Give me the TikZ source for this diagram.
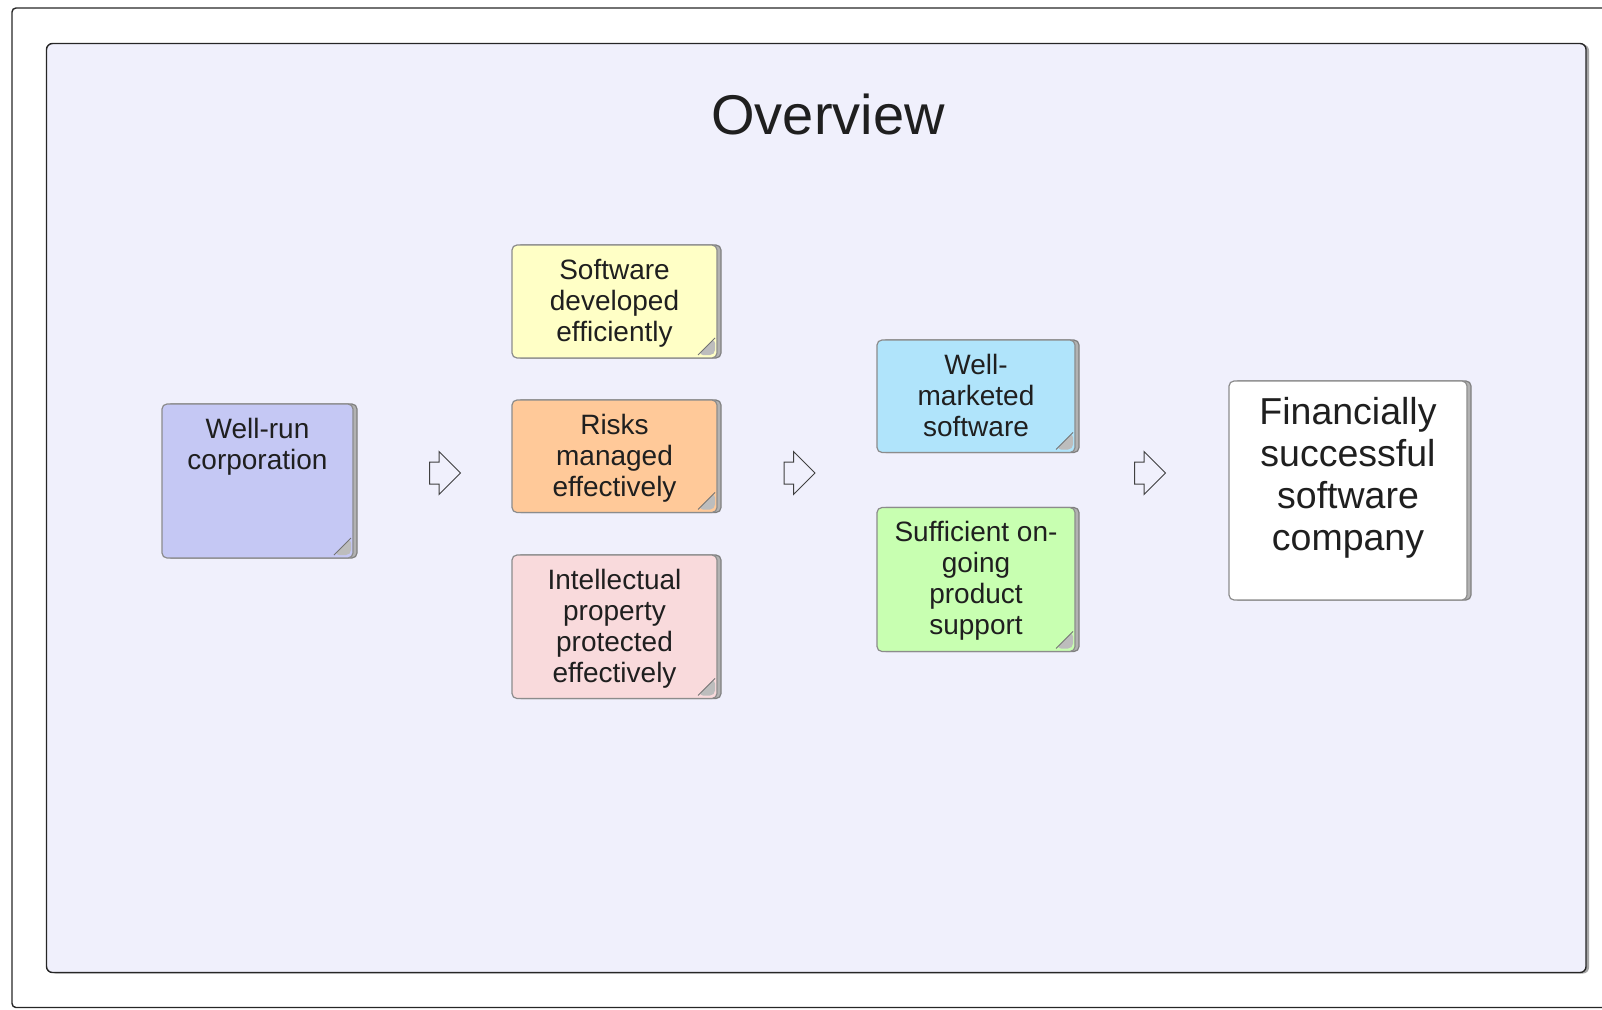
\documentclass[tikz,border=0pt]{standalone}
\usepackage{fontspec}
\setmainfont{Liberation Sans}
\usetikzlibrary{shapes.arrows,shadows}

\definecolor{panelbg}{HTML}{F0F0FC}
\definecolor{corpc}{HTML}{C5C8F4}
\definecolor{softc}{HTML}{FFFFC6}
\definecolor{riskc}{HTML}{FFC999}
\definecolor{ipc}{HTML}{F9DADC}
\definecolor{mktc}{HTML}{B0E4FB}
\definecolor{suppc}{HTML}{C8FFB1}

\tikzset{
  note/.style={draw=black!45,line width=1.2pt,rounded corners=5pt,inner sep=0pt,
    general shadow={shadow xshift=4pt,shadow yshift=0pt,fill=black!30,draw=black!50},
    path picture={
      \fill[black!26] ([xshift=-2pt,yshift=3pt]path picture bounding box.south east)
        -- ++(0,17pt) -- ++(-17pt,-17pt) -- cycle;
      \draw[black!55,line width=0.9pt] ([xshift=-2pt,yshift=20pt]path picture bounding box.south east)
        -- ++(-17pt,-17pt);
    }},
  notetext/.style={anchor=north,align=center,inner sep=2pt,text=black!88,
    font=\fontsize{28}{31}\selectfont},
  flow/.style={single arrow,draw=black!75,line width=1pt,inner xsep=0pt,inner ysep=10.5pt,
    single arrow head extend=10.5pt,single arrow tip angle=90,minimum height=31pt}
}

\begin{document}
\begin{tikzpicture}[x=1pt,y=-1pt]
        \useasboundingbox (0,0) rectangle (1602,1009);
        %% Frame and panel
        \draw[rounded corners=4pt,line width=1.4pt,black!85] (12,8) rectangle (1640,1007.5);
        \draw[rounded corners=6pt,line width=1.4pt,draw=black!85,fill=panelbg,
          general shadow={shadow xshift=3pt,shadow yshift=-1pt,fill=black!35}]
          (46.5,43.5) rectangle (1586,972.5);
        \node[anchor=base,text=black!88,font=\fontsize{56}{60}\selectfont] (title) at (828,134) {Overview};
        %% Notes
        \node[note,fill=corpc,minimum width=191pt,minimum height=154pt] (corp) at (257.5,481) {};
        \node[note,fill=softc,minimum width=205pt,minimum height=113pt] (soft) at (614.5,301.5) {};
        \node[note,fill=riskc,minimum width=205pt,minimum height=112.5pt] (risk) at (614.5,456.25) {};
        \node[note,fill=ipc,minimum width=205pt,minimum height=143.5pt] (ip) at (614.5,626.75) {};
        \node[note,fill=mktc,minimum width=198pt,minimum height=112.5pt] (mkt) at (976,396.25) {};
        \node[note,fill=suppc,minimum width=198pt,minimum height=144pt] (supp) at (976,579.5) {};
        \node[note,fill=white,path picture={},minimum width=238pt,minimum height=219pt] (fin) at (1348,490.5) {};
        %% Texts
        \node[notetext] (corpT) at ([yshift=-12.5pt]corp.north) {Well-run\\corporation};
        \node[notetext] (softT) at ([yshift=-12.5pt]soft.north) {Software\\developed\\efficiently};
        \node[notetext] (riskT) at ([yshift=-12.5pt]risk.north) {Risks\\managed\\effectively};
        \node[notetext] (ipT) at ([yshift=-12.5pt]ip.north) {Intellectual\\property\\protected\\effectively};
        \node[notetext] (mktT) at ([yshift=-12.5pt]mkt.north) {Well-\\marketed\\software};
        \node[notetext] (suppT) at ([yshift=-12.5pt]supp.north) {Sufficient on-\\going\\product\\support};
        \node[notetext,font=\fontsize{37.5}{42}\selectfont] (finT) at ([yshift=-15pt]fin.north) {Financially\\successful\\software\\company};
        %% Arrows
        \node[flow] (a1) at (439.5,473) {};
        \node[flow] (a2) at (794,473) {};
        \node[flow] (a3) at (1144.5,473) {};
\end{tikzpicture}
\end{document}
